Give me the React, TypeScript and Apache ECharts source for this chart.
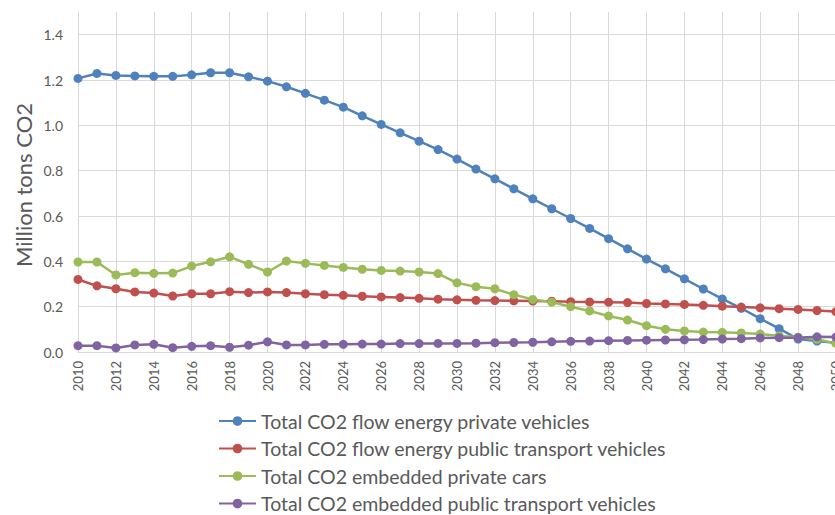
import React, { useEffect, useRef } from "react";
import * as echarts from "echarts";

const years: string[] = [];
for (let y = 2010; y <= 2050; y++) years.push(String(y));

const seriesNames = [
  "Total CO2 flow energy private vehicles",
  "Total CO2 flow energy public transport vehicles",
  "Total CO2 embedded private cars",
  "Total CO2 embedded public transport vehicles",
];

const flowPrivate = [
  1.207, 1.229, 1.22, 1.218, 1.216, 1.216, 1.223, 1.232, 1.232, 1.214,
  1.195, 1.17, 1.141, 1.111, 1.08, 1.042, 1.004, 0.967, 0.93, 0.893,
  0.851, 0.807, 0.764, 0.72, 0.676, 0.632, 0.589, 0.545, 0.5, 0.455,
  0.41, 0.367, 0.323, 0.278, 0.234, 0.193, 0.147, 0.103, 0.057, 0.048,
  0.04,
];

const flowPublic = [
  0.32, 0.292, 0.279, 0.265, 0.26, 0.247, 0.257, 0.257, 0.266, 0.262,
  0.265, 0.262, 0.257, 0.253, 0.25, 0.246, 0.243, 0.24, 0.237, 0.233,
  0.23, 0.228, 0.227, 0.226, 0.225, 0.224, 0.222, 0.221, 0.22, 0.218,
  0.214, 0.212, 0.21, 0.206, 0.202, 0.198, 0.195, 0.191, 0.188, 0.183,
  0.178,
];

const embeddedPrivate = [
  0.397, 0.397, 0.34, 0.35, 0.347, 0.348, 0.379, 0.398, 0.42, 0.387,
  0.353, 0.401, 0.391, 0.382, 0.373, 0.365, 0.36, 0.357, 0.353, 0.346,
  0.305, 0.288, 0.279, 0.253, 0.232, 0.22, 0.2, 0.181, 0.159, 0.141,
  0.116, 0.1, 0.093, 0.088, 0.087, 0.084, 0.079, 0.072, 0.065, 0.056,
  0.038,
];

const embeddedPublic = [
  0.028, 0.028, 0.018, 0.031, 0.034, 0.019, 0.025, 0.028, 0.021, 0.03,
  0.045, 0.031, 0.031, 0.034, 0.034, 0.035, 0.035, 0.037, 0.037, 0.038,
  0.038, 0.039, 0.041, 0.042, 0.043, 0.045, 0.047, 0.048, 0.05, 0.051,
  0.052, 0.053, 0.054, 0.055, 0.057, 0.059, 0.062, 0.063, 0.063, 0.067,
  0.066,
];

const seriesValues = [flowPrivate, flowPublic, embeddedPrivate, embeddedPublic];
const colors = ["#4F81BD", "#C0504D", "#9BBB59", "#8064A2"];

const FONT = "Lato, 'Open Sans', sans-serif";
const TEXT = "#595959";
const GRID = "#d9d9d9";

export default function App() {
  const ref = useRef<HTMLDivElement>(null);
  useEffect(() => {
    if (!ref.current) return;
    const chart = echarts.init(ref.current, undefined, { renderer: "svg" });
    chart.setOption({
      animation: false,
      backgroundColor: "#ffffff",
      color: colors,
      textStyle: { fontFamily: FONT },
      grid: {
        left: 78,
        right: -1,
        top: 12,
        bottom: 163,
        containLabel: false,
        outerBoundsMode: "none",
      },
      graphic: [
        {
          type: "text",
          x: 23,
          y: 185,
          rotation: Math.PI / 2,
          style: {
            text: "Million tons CO2",
            fontSize: 22,
            fontFamily: FONT,
            fill: TEXT,
            align: "center",
            verticalAlign: "middle",
          },
        },
      ],
      legend: {
        orient: "vertical",
        left: 218,
        top: 411,
        height: 160,
        padding: 0,
        itemWidth: 37,
        itemHeight: 12,
        itemGap: 7.5,
        textStyle: { fontSize: 19.5, color: TEXT, fontFamily: FONT },
        data: seriesNames,
      },
      xAxis: {
        type: "category",
        data: years,
        boundaryGap: false,
        axisLine: { lineStyle: { color: GRID, width: 1 } },
        axisTick: { show: false },
        axisLabel: {
          interval: 1,
          rotate: 90,
          fontSize: 13,
          color: TEXT,
          margin: 9,
          fontFamily: FONT,
        },
        splitLine: { show: true, interval: 1, lineStyle: { color: GRID, width: 1 } },
      },
      yAxis: {
        type: "value",
        min: 0,
        max: 1.5,
        interval: 0.2,
        axisLine: { show: true, lineStyle: { color: GRID, width: 1 } },
        axisTick: { show: false },
        axisLabel: {
          fontSize: 14,
          color: TEXT,
          margin: 15,
          showMaxLabel: false,
          fontFamily: FONT,
          formatter: (v: number) => v.toFixed(1),
        },
        splitLine: { show: true, showMaxLine: false, lineStyle: { color: GRID, width: 1 } },
      },
      series: seriesNames.map((name, i) => ({
        name,
        type: "line",
        data: seriesValues[i],
        symbol: "circle",
        symbolSize: 9,
        showAllSymbol: true,
        lineStyle: { width: 2.5, color: colors[i] },
        itemStyle: { color: colors[i] },
      })),
    });
    return () => chart.dispose();
  }, []);
  return (
    <div
      ref={ref}
      style={{ position: "absolute", left: 0, top: 0, width: 835, height: 515 }}
    />
  );
}
